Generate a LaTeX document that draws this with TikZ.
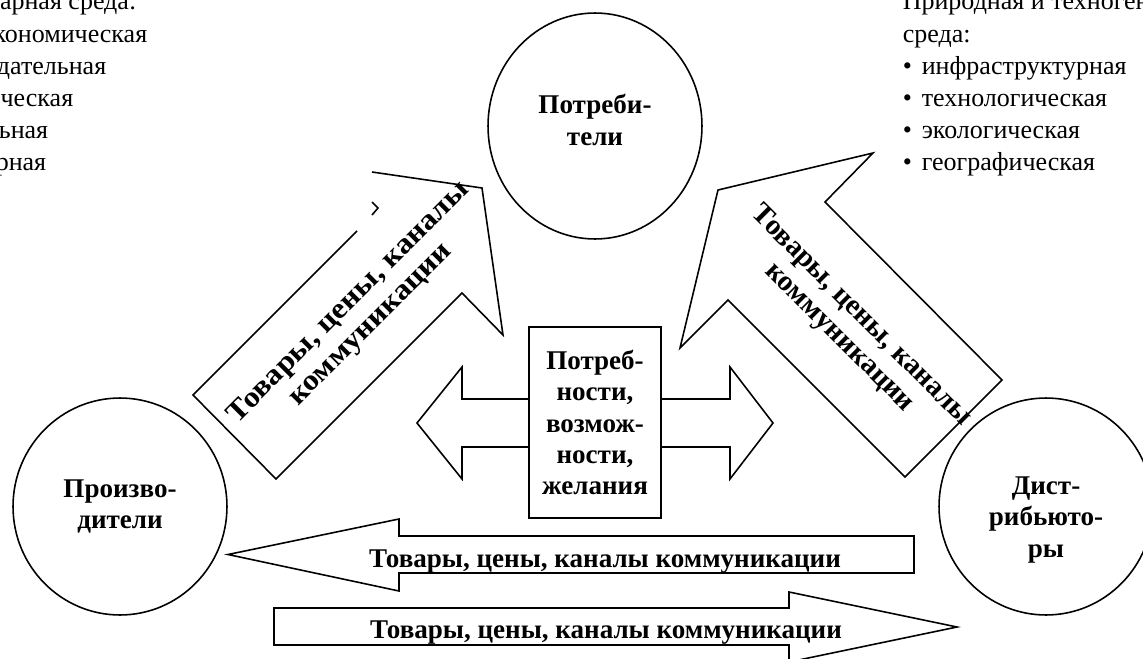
\documentclass[tikz,border=0pt]{standalone}
\usepackage{fontspec}
\setmainfont{Liberation Serif}
\newfontfamily\shirokij[FakeStretch=1.1]{Liberation Serif}
\usetikzlibrary{shapes.geometric}
\tikzset{
  krug/.style={draw,ellipse,inner sep=0pt,minimum width=4.28cm,minimum height=4.34cm},
  jirnyj/.style={inner sep=0pt,align=center,font=\bfseries\fontsize{15.4}{17.8}\selectfont},
  tovar/.style={inner sep=0pt,font=\bfseries\fontsize{15.4}{17.8}\selectfont},
  sreda/.style={inner sep=0pt,font=\fontsize{14.8}{18}\selectfont},
  strelka/.style={draw,fill=white,line join=miter},
  kosoj/.style={inner sep=0pt,align=center,font=\bfseries\fontsize{16.5}{17.6}\selectfont}
}
\begin{document}
\begin{tikzpicture}[x=0.02cm,y=-0.02cm]
\pgfsetlinewidth{.9pt}
\useasboundingbox (0,0) rectangle (1143,659);
\clip (0,0) rectangle (1143,659);
%
% среда слева и справа
\foreach \txt/\xe [count=\i] in {арная среда:/137,кономическая/148,дательная/107,%
ческая/74,ьная/49,рная/47}
  \node[sreda,anchor=base east] (vl\i) at (\xe,{10+32*(\i-1)}) {\txt};
\node[sreda,anchor=base west] (vp1) at (902,10) {Природная и техногенная};
\node[sreda,anchor=base west] (vp2) at (902,42) {среда:};
\foreach \txt [count=\i from 3] in {инфраструктурная,технологическая,экологическая,географическая}
  \node[sreda,anchor=base west] (vp\i) at (902,{10+32*(\i-1)}) {\textbullet\hspace{.38em}\txt};
%
% участники рынка
\node[krug,minimum height=4.52cm] (potr) at (595,126) {};
\node[jirnyj] (potrt) at (595,120) {Потреби-\\тели};
\node[krug,jirnyj] (proizv) at (120,506.5) {Произво-\\дители};
\node[krug] (distr) at (1046,506.5) {};
\node[jirnyj] (distrt) at (1046,520) {Дист-\\рибьюто-\\ры};
%
% косые стрелки
\draw[strelka] (357,231) -- (193,395) -- (276,479) -- (462,293) -- (503,335) -- (482,188) -- (372,172);
\draw (372,202) -- (378,208) -- (372,215);
\draw[strelka] (905,477) -- (1002,380) -- (825,202) -- (873,153) -- (718,190) -- (680,348) -- (728,300) -- cycle;
\node[kosoj,rotate=45,font=\shirokij\bfseries\fontsize{16.5}{17.6}\selectfont] (kl) at (360,314) {Товары, цены, каналы\\коммуникации};
\node[kosoj,rotate=-45] (kp) at (850,327) {Товары, цены, каналы\\коммуникации};
%
% потребности
\draw[strelka] (417,423) -- (462,367) -- (462,399) -- (730,399) -- (730,367) -- (773,423)
  -- (730,479) -- (730,447) -- (462,447) -- (462,479) -- cycle;
\node[draw,fill=white,jirnyj,minimum width=2.64cm,minimum height=3.82cm] (potrebn) at (595,422.5)
  {Потреб-\\ности,\\возмож-\\ности,\\желания};
%
% нижние стрелки
\draw[strelka] (228,554.5) -- (399,519) -- (399,536) -- (914,536) -- (914,573) -- (399,573) -- (399,591) -- cycle;
\node[tovar,anchor=base] (tn1) at (605,567) {Товары, цены, каналы коммуникации};
\draw[strelka] (274,608) -- (789,608) -- (789,592) -- (957,627) -- (789,662) -- (789,645) -- (274,645) -- cycle;
\node[tovar,anchor=base] (tn2) at (606,638) {Товары, цены, каналы коммуникации};
\end{tikzpicture}
\end{document}
